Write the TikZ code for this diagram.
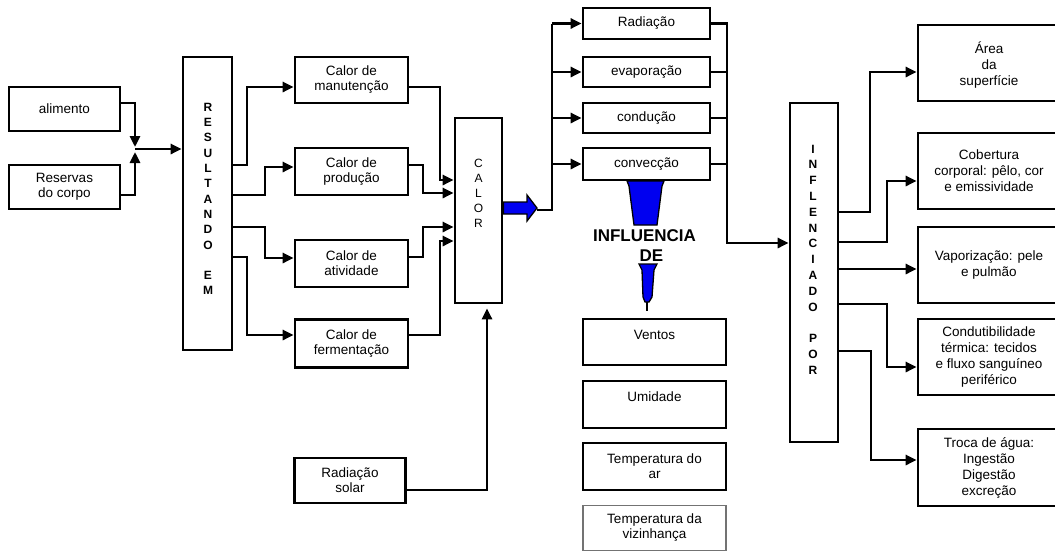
\documentclass[tikz,border=0pt]{standalone}
\usepackage{fontspec}
\setmainfont{Liberation Sans}
\usetikzlibrary{arrows.meta}
\definecolor{fblue}{RGB}{0,0,240}
\begin{document}
\begin{tikzpicture}[x=1pt,y=-1pt,
  box/.style={draw, line width=2.7pt, inner sep=0pt, align=center, font=\fontsize{13.5}{15}\selectfont},
  rbox/.style={box, font=\fontsize{13.5}{16}\selectfont},
  vlet/.style={align=center, inner sep=0pt, font=\bfseries\fontsize{12}{15.3}\selectfont},
  line/.style={line width=2.7pt},
  arr/.style={line width=2.7pt, -{Triangle[length=11pt,width=10pt]}},
  blueshape/.style={fill=fblue, draw=black, line width=1.3pt, line join=miter},
  bigtxt/.style={inner sep=0pt, font=\bfseries\fontsize{17}{19}\selectfont}]
\useasboundingbox (0,0) rectangle (1055,552);
\clip (0,0) rectangle (1055,552);
% left inputs
\node[box, minimum width=111pt, minimum height=44pt] (alimento) at (64.5,109) {alimento};
\node[box, minimum width=111pt, minimum height=44pt] (reservas) at (64.5,187) {Reservas\\do corpo};
% resultando
\node[box, minimum width=49pt, minimum height=293pt] (res) at (207.5,203.5) {};
\node[vlet] (resT) at (208,199) {R\\E\\S\\U\\L\\T\\A\\N\\D\\O\\[15.3pt]E\\M};
% calor boxes
\node[box, minimum width=113pt, minimum height=46pt] (manut) at (351.5,80) {Calor de\\manutenção};
\node[box, minimum width=113pt, minimum height=47pt] (prod) at (351.5,171.5) {Calor de\\produção};
\node[box, minimum width=113pt, minimum height=47pt] (ativ) at (351.5,263.5) {Calor de\\atividade};
\node[box, minimum width=113pt, minimum height=48pt] (ferm) at (351.5,343.5) {Calor de\\fermentação};
\node[box, minimum width=111pt, minimum height=45pt] (radsolar) at (350,480.5) {Radiação\\solar};
% CALOR
\node[box, minimum width=47pt, minimum height=185pt] (calor) at (478.5,210.5) {};
\node[vlet, font=\fontsize{12}{15}\selectfont] (calorT) at (478.5,193) {C\\A\\L\\O\\R};
% heat loss boxes
\node[box, minimum width=127pt, minimum height=31pt] (radiacao) at (646.5,23.5) {Radiação};
\node[box, minimum width=127pt, minimum height=30pt] (evap) at (646.5,72) {evaporação};
\node[box, minimum width=127pt, minimum height=30pt] (cond) at (646.5,118) {condução};
\node[box, minimum width=127pt, minimum height=32pt] (conv) at (646.5,164) {convecção};
% influence factors
\node[box, minimum width=143pt, minimum height=46pt] (ventos) at (654.5,342) {Ventos\\\mbox{}};
\node[box, minimum width=143pt, minimum height=47pt] (umid) at (654.5,404.5) {Umidade\\\mbox{}};
\node[box, minimum width=143pt, minimum height=47pt] (tempar) at (654.5,466.5) {Temperatura do\\ar};
\node[box, draw=black!55, line width=1.8pt, minimum width=143pt, minimum height=45pt] (tempviz) at (654.5,528) {Temperatura da\\vizinhança};
% INFLENCIADO POR
\node[box, minimum width=48pt, minimum height=339pt] (infl) at (814,272.5) {};
\node[vlet, font=\bfseries\fontsize{12}{15.8}\selectfont] (inflT) at (813,259.5) {I\\N\\F\\L\\E\\N\\C\\I\\A\\D\\O\\[15.8pt]P\\O\\R};
% right boxes
\node[rbox, minimum width=142pt, minimum height=76pt] (area) at (989,63) {\mbox{}\\Área\\da\\superfície};
\node[rbox, minimum width=142pt, minimum height=76pt] (cob) at (989,171) {Cobertura\\corporal: pêlo, cor\\e emissividade};
\node[rbox, minimum width=142pt, minimum height=76pt] (vap) at (989,265) {Vaporização: pele\\e pulmão};
\node[rbox, minimum width=142pt, minimum height=76pt] (cond2) at (989,357) {Condutibilidade\\térmica: tecidos\\e fluxo sanguíneo\\periférico};
\node[rbox, minimum width=142pt, minimum height=77pt] (troca) at (989,467.5) {Troca de água:\\Ingestão\\Digestão\\excreção};
% funnel text
\node[bigtxt] (inflDe1) at (644.5,236) {INFLUENCIA};
\node[bigtxt] (inflDe2) at (651.5,256) {DE};
% connectors: inputs
\coordinate (jn) at (135,149);
\draw[arr] (alimento.east |- 0,103) -| ([yshift=2pt]jn);
\draw[arr] (reservas.east |- 0,195) -| ([yshift=-3pt]jn);
\draw[arr] (jn) -- (res.west |- jn);
% resultando -> calor boxes
\draw[arr] (res.east |- 0,165) -| (247,87) -- (manut.west |- 0,87);
\draw[arr] (res.east |- 0,195) -| (265,167) -- (prod.west |- 0,167);
\draw[arr] (res.east |- 0,227) -| (265,258) -- (ativ.west |- 0,258);
\draw[arr] (res.east |- 0,257) -| (247,335) -- (ferm.west |- 0,335);
% calor boxes -> CALOR
\draw[arr] (manut.east |- 0,87) -| (440,180) -- (calor.west |- 0,180);
\draw[arr] (prod.east |- 0,165) -| (423,193) -- (calor.west |- 0,193);
\draw[arr] (ativ.east |- 0,257) -| (423,227) -- (calor.west |- 0,227);
\draw[arr] (ferm.east |- 0,335) -| (440,241) -- (calor.west |- 0,241);
\draw[arr, shorten >=4pt] (radsolar.east |- 0,490) -| ([xshift=8.5pt]calor.south);
% blue arrow
\draw[blueshape] (calor.east |- 0,202) -- (527,202) -- (527,195) -- (537,208) -- (527,221) -- (527,214) -- (calor.east |- 0,214) -- cycle;
\coordinate (bt) at (537,210);
\draw[line] (bt) -| (radiacao.west -| 552,0);
\draw[arr] (radiacao.west -| 552,0) -- (radiacao.west);
\draw[arr] (evap.west -| 552,0) -- (evap.west);
\draw[arr] (cond.west -| 552,0) -- (cond.west);
\draw[arr] (conv.west -| 552,0) -- (conv.west);
% to INFL
\draw[arr] (radiacao.east) -| (727,243) -- (infl.west |- 0,243);
\draw[line] (evap.east) -- (evap.east -| 727,0);
\draw[line] (cond.east) -- (cond.east -| 727,0);
\draw[line] (conv.east) -- (conv.east -| 727,0);
% funnels
\draw[blueshape] (627,181) -- (664,181) -- (662,186) -- (657,225) -- (634,225) -- (629,186) -- cycle;
\draw[blueshape] (639,264) -- (657,264) -- (654,270) -- (652,297) -- (649,302) -- (645,302) -- (643,297) -- (642,270) -- cycle;
\draw[line] (647,302) -- (647,311);
% INFL -> right boxes
\draw[arr] (infl.east |- 0,212) -| (870,72) -- (area.west |- 0,72);
\draw[arr] (infl.east |- 0,242) -| (887,181) -- (cob.west |- 0,181);
\draw[arr] (infl.east |- 0,269) -- (vap.west |- 0,269);
\draw[arr] (infl.east |- 0,304) -| (887,367) -- (cond2.west |- 0,367);
\draw[arr] (infl.east |- 0,351) -| (871,460) -- (troca.west |- 0,460);
\end{tikzpicture}
\end{document}
